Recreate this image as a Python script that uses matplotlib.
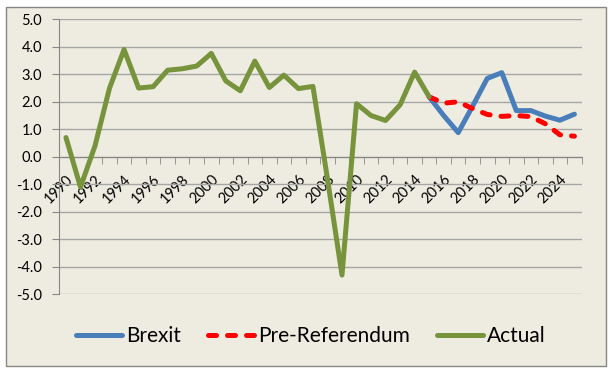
import matplotlib
matplotlib.use("Agg")
import matplotlib.pyplot as plt
from matplotlib.patches import Rectangle

# =========================
# DATA
# =========================
years = list(range(1990, 2026))

actual_years = list(range(1990, 2016))
actual = [0.7, -1.1, 0.4, 2.5, 3.9, 2.5, 2.55, 3.15, 3.2, 3.3,
          3.76, 2.76, 2.4, 3.48, 2.52, 2.97, 2.48, 2.56, -0.8, -4.3,
          1.93, 1.5, 1.32, 1.89, 3.08, 2.18]

forecast_years = list(range(2015, 2026))
brexit = [2.18, 1.5, 0.88, 1.85, 2.85, 3.06, 1.68, 1.68, 1.48, 1.33, 1.55]
pre_referendum = [2.18, 1.95, 2.0, 1.75, 1.54, 1.47, 1.5, 1.46, 1.2, 0.8, 0.75]

y_ticks = [-5, -4, -3, -2, -1, 0, 1, 2, 3, 4, 5]

# =========================
# STYLE
# =========================
BG = "#EEECE1"
AXIS_GRAY = "#868686"
GRID_GRAY = "#A6A6A6"
plt.rcParams["font.family"] = ["Lato", "DejaVu Sans"]

fig = plt.figure(figsize=(6.14, 3.70), dpi=100)
fig.patch.set_facecolor("white")
frame = Rectangle((6 / 614, 1 - 366 / 370), 600 / 614, 359 / 370,
                  transform=fig.transFigure, facecolor=BG,
                  edgecolor=AXIS_GRAY, linewidth=1.0, zorder=-10)
fig.patches.append(frame)

ax = fig.add_axes([58.7 / 614, 1 - 294.3 / 370, 523 / 614, 275 / 370])
ax.set_facecolor("none")

idx = {y: i for i, y in enumerate(years)}
lw = 3.6
ax.plot([idx[y] for y in forecast_years], brexit, color="#4A7EBB", lw=lw,
        solid_capstyle="round", solid_joinstyle="round", label="Brexit", zorder=3)
ax.plot([idx[y] for y in forecast_years], pre_referendum, color="#FF0000", lw=lw,
        linestyle=(0, (1.6, 2.2)), dash_capstyle="round", dash_joinstyle="round",
        label="Pre-Referendum", zorder=3)
ax.plot([idx[y] for y in actual_years], actual, color="#77933C", lw=lw,
        solid_capstyle="round", solid_joinstyle="round", label="Actual", zorder=4)

# =========================
# AXES
# =========================
ax.set_xlim(-0.5, len(years) - 0.5)
ax.set_ylim(-5, 5)
ax.set_yticks(y_ticks)
ax.set_yticklabels([f"{v:.1f}" for v in y_ticks])
ax.yaxis.grid(True, color=GRID_GRAY, linewidth=1.0)
ax.set_axisbelow(True)

ax.spines["top"].set_visible(False)
ax.spines["right"].set_visible(False)
ax.spines["left"].set_color(AXIS_GRAY)
ax.spines["bottom"].set_color(AXIS_GRAY)
ax.spines["bottom"].set_position(("data", 0))

label_pos = [idx[y] for y in years if (y - 1990) % 2 == 0]
ax.set_xticks(label_pos)
ax.set_xticklabels([str(years[i]) for i in label_pos], rotation=45,
                   ha="right", va="top", rotation_mode="anchor")
ax.set_xticks([i - 0.5 for i in range(len(years) + 1)], minor=True)
ax.tick_params(axis="x", which="major", length=0, pad=11, labelsize=10.5)
ax.tick_params(axis="x", which="minor", length=5, color=AXIS_GRAY, direction="out")
ax.tick_params(axis="y", length=5, color=AXIS_GRAY, pad=7, labelsize=10.5)

fig.legend(loc="center", bbox_to_anchor=(0.507, 1 - 336 / 370), ncol=3,
           frameon=False, fontsize=15, handlelength=2.2, handletextpad=0.2,
           columnspacing=1.3)

fig.savefig("out.png", dpi=100, facecolor="white")
